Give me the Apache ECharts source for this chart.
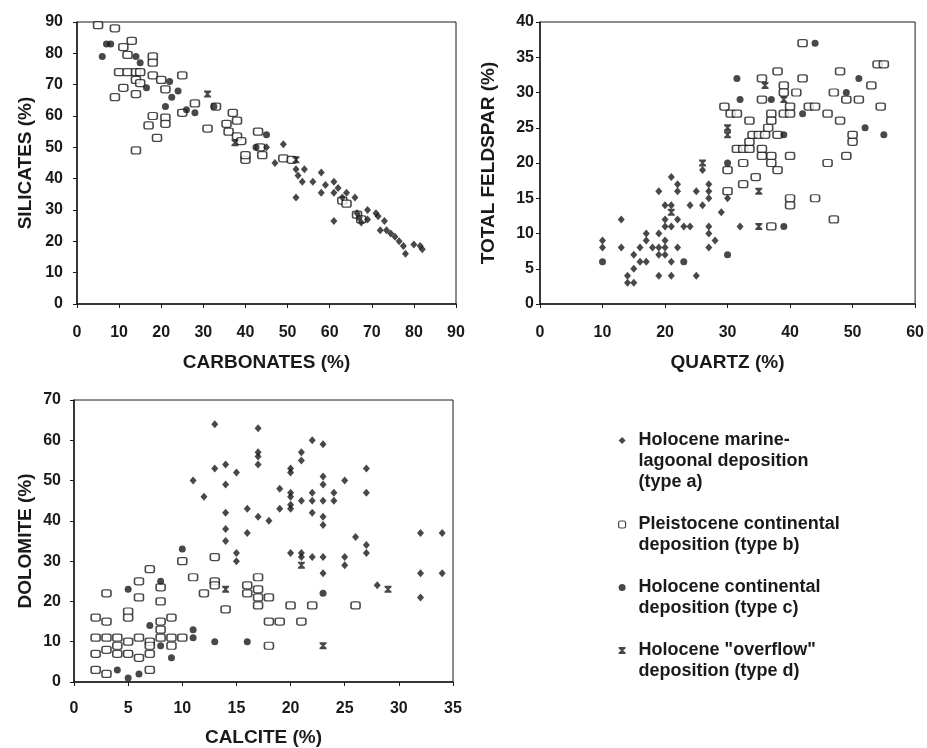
<!DOCTYPE html>
<html>
<head>
<meta charset="utf-8">
<script src="https://cdn.jsdelivr.net/npm/echarts@6/dist/echarts.min.js"></script>
<style>html,body{margin:0;background:#fff}#main{width:927px;height:748px}</style>
</head>
<body>
<div id="main"></div>
<script>
// carbonates (x) vs silicates (y)
var silA = [[47,45],[49,51],[45,50],[52,34],[52,43],[52.5,41],[53.5,39],[54,43],[56,39],[58,42],[58,35.5],[59,38],[61,39],[62,37],[61,35.5],[63,34],[64,35.5],[66,34],[66.5,29],[67,27.5],[67.5,26],[69,30],[69,27],[71,29],[71.5,28],[73,26.5],[72,23.5],[73.5,23.5],[74.5,22.5],[75.5,21.5],[76.5,20],[77.5,18.5],[78,16],[80,19],[81.5,18.5],[82,17.5],[61,26.5]];
var silB = [[5,89],[9,88],[11,82],[13,84],[12,79.5],[10,74],[12,74],[14,74],[15,74],[9,66],[11,69],[14,67],[14,49],[14,71.5],[15,70.5],[18,79],[18,77],[18,73],[17,57],[18,60],[19,53],[20,71.5],[21,68.5],[21,59.5],[21,57.5],[25,73],[25,61],[28,64],[31,56],[33,63],[37,61],[35.5,57.5],[36,55],[38,58.5],[38,53.5],[39,52],[40,46],[40,47.5],[43,55],[43.5,50],[44,47.5],[49,46.5],[51,46],[63,33],[64,32],[66.5,28.5],[67.5,27]];
var silC = [[6,79],[7,83],[8,83],[14,79],[15,77],[16.5,69],[22,71],[21,63],[24,68],[22.5,66],[26,62],[28,61],[32.5,63],[45,54],[42.5,50]];
var silD = [[31,67],[37.5,51.5],[52,46]];

// quartz (x) vs total feldspar (y)
var felA = [[10,9],[10,8],[13,8],[13,12],[14,4],[14,3],[15,3],[15,5],[15,7],[16,8],[16,6],[17,6],[17,10],[17,9],[18,8],[19,8],[20,8],[19,10],[19,7],[20,7],[20,9],[21,6],[19,4],[21,4],[19,16],[20,12],[20,14],[21,14],[21,18],[20,11],[21,11],[22,17],[22,16],[22,12],[22,8],[23,11],[24,11],[24,14],[25,16],[25,4],[26,14],[26,19],[27,17],[27,16],[27,15],[27,11],[27,10],[27,8],[28,9],[29,13],[30,15],[32,11]];
var felB = [[29.5,28],[30.5,27],[31.5,27],[30,19],[30,16],[31.5,22],[32.5,22],[33.5,22],[32.5,20],[32.5,17],[33.5,26],[33.5,23],[34.5,18],[34,24],[35,24],[36,24],[35.5,32],[35.5,29],[35.5,22],[35.5,21],[36.5,25],[37,27],[37,26],[37,21],[37,20],[37,11],[38,33],[38,24],[38,19],[39,31],[39,30],[39,27],[40,28],[40,27],[40,21],[40,15],[40,14],[41,30],[42,37],[42,32],[43,28],[44,28],[44,15],[46,27],[46,20],[47,30],[47,12],[48,33],[48,26],[49,29],[49,21],[50,24],[50,23],[51,29],[53,31],[54,34],[55,34],[54.5,28]];
var felC = [[10,6],[23,6],[30,7],[31.5,32],[32,29],[37,29],[39,11],[42,27],[44,37],[49,30],[51,32],[52,25],[55,24],[39,24],[30,20]];
var felD = [[26,20],[21,13],[30,25],[30,24],[36,31],[35,16],[35,11],[39,29]];

// calcite (x) vs dolomite (y)
var dolA = [[11,50],[12,46],[13,64],[13,53],[14,54],[14,49],[14,42],[14,38],[14,35],[15,52],[15,32],[15,30],[16,43],[16,37],[17,63],[17,57],[17,56],[17,54],[17,41],[18,40],[19,48],[19,43],[20,53],[20,52],[20,47],[20,46],[20,44],[20,43],[20,32],[21,57],[21,55],[21,45],[21,32],[21,31],[22,60],[22,47],[22,45],[22,42],[22,31],[23,59],[23,51],[23,49],[23,45],[23,41],[23,39],[23,31],[23,27],[24,47],[24,45],[25,50],[25,31],[25,29],[26,36],[27,53],[27,47],[27,34],[27,32],[28,24],[32,37],[32,27],[32,21],[34,37],[34,27]];
var dolB = [[2,16],[2,11],[2,7],[2,3],[3,22],[3,15],[3,11],[3,8],[3,2],[4,11],[4,9],[4,7],[5,17.5],[5,16],[5,10],[5,7],[6,25],[6,21],[6,11],[6,6],[7,28],[7,10],[7,9],[7,7],[7,3],[8,23.5],[8,20],[8,15],[8,13],[8,11],[9,16],[9,11],[9,9],[10,11],[10,30],[11,26],[12,22],[13,31],[13,25],[13,24],[14,18],[16,24],[16,22],[17,26],[17,23],[17,21],[17,19],[18,21],[18,15],[19,15],[18,9],[20,19],[21,15],[22,19],[26,19]];
var dolC = [[5,23],[4,3],[5,1],[6,2],[7,14],[8,25],[8,9],[9,6],[10,33],[11,13],[11,11],[13,10],[16,10],[23,22]];
var dolD = [[14,23],[21,29],[23,9],[29,23]];

var xNames = ['CARBONATES (%)', 'QUARTZ (%)', 'CALCITE (%)'];
var yNames = ['SILICATES (%)', 'TOTAL FELDSPAR (%)', 'DOLOMITE (%)'];
var xMax = [90, 60, 35], xStep = [10, 10, 5];
var yMax = [90, 40, 70], yStep = [10, 5, 10];

// blank lines above keep the marker level with the first text line
var legendText = {
    a: '\u00a0\n\u00a0\nHolocene marine-\nlagoonal deposition\n(type a)',
    b: '\u00a0\nPleistocene continental\ndeposition (type b)',
    c: '\u00a0\nHolocene continental\ndeposition (type c)',
    d: '\u00a0\nHolocene "overflow"\ndeposition (type d)'
};

var ink = '#1a1a1a';
var font = "'Liberation Sans', Arial, sans-serif";
var symD = 'path://M0,0L10,0L10,2L6.5,5L10,8L10,10L0,10L0,8L3.5,5L0,2Z';

var panels = [
    [silA, silB, silC, silD],
    [felA, felB, felC, felD],
    [dolA, dolB, dolC, dolD]
];

var grids = [
    {left: 77, top: 22, width: 379, height: 282},
    {left: 540, top: 22, width: 376, height: 282},
    {left: 74, top: 400, width: 379, height: 282}
];
var yLabelMargin = [14, 6, 13];
var xLabelMargin = [21, 21, 19];
var xNameGap = [49, 49, 46];
var yNameGap = [42, 42, 39];

var xAxes = [], yAxes = [], series = [];
grids.forEach(function(g, i) {
    g.show = true;
    g.borderColor = ink;
    g.borderWidth = 1;
    xAxes.push({
        gridIndex: i, type: 'value', min: 0, max: xMax[i], interval: xStep[i],
        name: xNames[i], nameLocation: 'middle', nameGap: xNameGap[i],
        nameTextStyle: {color: ink, fontSize: 19, fontWeight: 'bold', fontFamily: font},
        axisLine: {lineStyle: {color: ink, width: 1.5}},
        axisTick: {show: true, length: 4, lineStyle: {color: ink}},
        axisLabel: {color: ink, fontSize: 16, fontWeight: 'bold', fontFamily: font, margin: xLabelMargin[i]},
        splitLine: {show: false}
    });
    yAxes.push({
        gridIndex: i, type: 'value', min: 0, max: yMax[i], interval: yStep[i],
        name: yNames[i], nameLocation: 'middle', nameGap: yNameGap[i],
        nameTextStyle: {color: ink, fontSize: 19, fontWeight: 'bold', fontFamily: font},
        axisLine: {lineStyle: {color: ink, width: 1.5}},
        axisTick: {show: true, length: 4, lineStyle: {color: ink}},
        axisLabel: {color: ink, fontSize: 16, fontWeight: 'bold', fontFamily: font, margin: yLabelMargin[i]},
        splitLine: {show: false}
    });
    var d = panels[i];
    // open squares first so the filled marks sit on top
    series.push({name: 'b', type: 'scatter', xAxisIndex: i, yAxisIndex: i, data: d[1],
        symbol: 'roundRect', symbolSize: [9, 7],
        itemStyle: {color: '#fff', borderColor: ink, borderWidth: 1.4}});
    series.push({name: 'a', type: 'scatter', xAxisIndex: i, yAxisIndex: i, data: d[0],
        symbol: 'diamond', symbolSize: [7, 8], itemStyle: {color: ink}});
    series.push({name: 'c', type: 'scatter', xAxisIndex: i, yAxisIndex: i, data: d[2],
        symbol: 'circle', symbolSize: 7, itemStyle: {color: ink}});
    series.push({name: 'd', type: 'scatter', xAxisIndex: i, yAxisIndex: i, data: d[3],
        symbol: symD, symbolSize: 7, itemStyle: {color: ink}});
});

var mychart = echarts.init(document.getElementById('main'));
mychart.setOption({
    backgroundColor: '#fff',
    animation: false,
    grid: grids,
    xAxis: xAxes,
    yAxis: yAxes,
    legend: {
        orient: 'vertical',
        left: 618,
        top: 388,
        padding: 0,
        itemGap: 0,
        itemWidth: 7,
        itemHeight: 7,
        itemStyle: {borderWidth: 1.2},
        selectedMode: false,
        textStyle: {color: ink, fontSize: 18, fontWeight: 'bold', fontFamily: font, lineHeight: 21, padding: [0, 0, 0, 8]},
        data: ['a', 'b', 'c', 'd'],
        formatter: function(n) { return legendText[n]; }
    },
    series: series
});
</script>
</body>
</html>
